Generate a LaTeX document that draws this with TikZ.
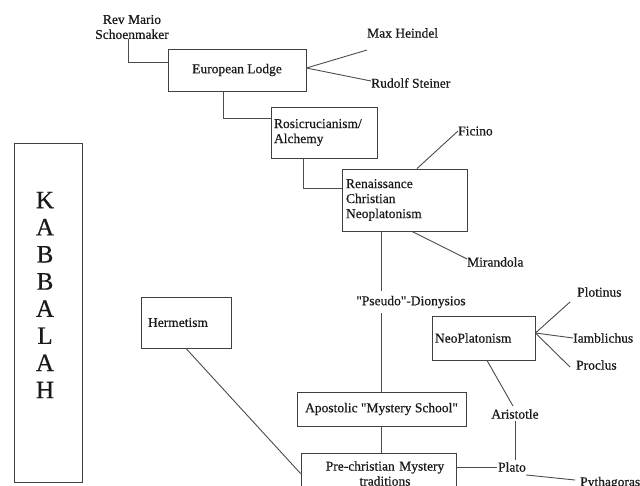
\documentclass[tikz,border=0pt]{standalone}
\usepackage{fontspec}
\setmainfont{Liberation Serif}
\newfontfamily\gfont[FakeBold=0.5]{Liberation Serif}
\begin{document}
\begin{tikzpicture}[x=1pt,y=-1pt,
  every node/.style={font=\gfont\fontsize{13.5}{15}\selectfont, text=black!90, inner sep=0pt},
  box/.style={draw=black!75, line width=0.9pt},
  conn/.style={draw=black!70, line width=0.9pt},
  lbl/.style={align=center}]
\useasboundingbox (0,0) rectangle (640,485);
\fill[white] (0,0) rectangle (640,485);

% nodes
\node[box, minimum width=138pt, minimum height=42pt] (el) at (237,70) {European Lodge};
\node[lbl] (rev) at (132,27) {Rev Mario\\Schoenmaker};
\node[anchor=west] (mh) at (367,33) {Max Heindel};
\node[anchor=west] (rs) at (371,83) {Rudolf Steiner};
\node[box, minimum width=106pt, minimum height=51pt, text width=100pt, align=left] (rosi) at (324,132.5) {Rosicrucianism/\\Alchemy};
\node[box, minimum width=125pt, minimum height=62pt, text width=117pt, align=left] (ren) at (404.5,200) {Renaissance\\Christian\\Neoplatonism};
\node[anchor=west] (fi) at (458,131) {Ficino};
\node[anchor=west] (mi) at (467,262) {Mirandola};
\node (pd) at (411,302) {\textquotedbl Pseudo\textquotedbl-Dionysios};
\node[box, minimum width=169pt, minimum height=34pt] (ap) at (381.5,409) {Apostolic \textquotedbl Mystery School\textquotedbl};
\node[box, minimum width=155pt, minimum height=41pt, text width=155pt, align=center] (pc) at (378.5,473.5) {\hspace*{13pt}Pre-christian Mystery\\\hspace*{13pt}traditions};
\node[box, minimum width=90pt, minimum height=51pt, text width=76pt, align=left] (herm) at (186,322.5) {Hermetism};
\node[box, minimum width=103pt, minimum height=44pt, text width=97pt, align=left] (neo) at (483.5,338) {NeoPlatonism};
\node[anchor=west] (pt) at (577,292) {Plotinus};
\node[anchor=west] (ia) at (573,338) {Iamblichus};
\node[anchor=west] (pr) at (576,365) {Proclus};
\node (ar) at (515,414) {Aristotle};
\node (pl) at (512,467) {Plato};
\node[anchor=west] (py) at (580,483) {Pythagoras};
\node[box, minimum width=68pt, minimum height=339pt] (kbox) at (48,312.5) {};
\node[align=center, font=\gfont\fontsize{25}{27.14}\selectfont] (ktext) at (45,295) {K\\A\\B\\B\\A\\L\\A\\H};

% connectors
\draw[conn] ([xshift=-4pt]rev.south) |- ([yshift=8pt]el.west);
\draw[conn] ([xshift=-14pt]el.south) |- ([yshift=14.5pt]rosi.west);
\draw[conn] ([yshift=2pt]el.east) -- ([yshift=-17pt]mh.west);
\draw[conn] ([yshift=2pt]el.east) -- ([yshift=2pt]rs.west);
\draw[conn] ([xshift=-21pt]rosi.south) |- ([yshift=12pt]ren.west);
\draw[conn] ([xshift=12.5pt]ren.north) -- (fi.west);
\draw[conn] ([xshift=7.5pt]ren.south) -- ([yshift=3pt]mi.west);
\draw[conn] ([xshift=-23.5pt]ren.south) -- ([xshift=-30pt,yshift=5pt]pd.north);
\draw[conn] ([xshift=-30pt,yshift=-5pt]pd.south) -- ([xshift=-0.5pt]ap.north);
\draw[conn] (ap.south) -- (ap.south |- pc.north);
\draw[conn] (herm.south) -- (pc.west);
\draw[conn] (pc.east |- pl.west) -- ([xshift=-1pt]pl.west);
\draw[conn] ([yshift=-2pt]ar.south) -- ([yshift=2pt]ar.south |- pl.north);
\draw[conn] ([xshift=3.5pt]neo.south) -- ([xshift=-2pt,yshift=3pt]ar.north);
\draw[conn] ([yshift=5pt]neo.east) -- ([xshift=-7pt,yshift=-10pt]pt.west);
\draw[conn] ([yshift=5pt]neo.east) -- (ia.west);
\draw[conn] ([yshift=5pt]neo.east) -- ([xshift=-6pt,yshift=-2pt]pr.west);
\draw[conn] ([yshift=-3pt]pl.south east) -- ([xshift=-5pt,yshift=3pt]py.west);
\end{tikzpicture}
\end{document}
